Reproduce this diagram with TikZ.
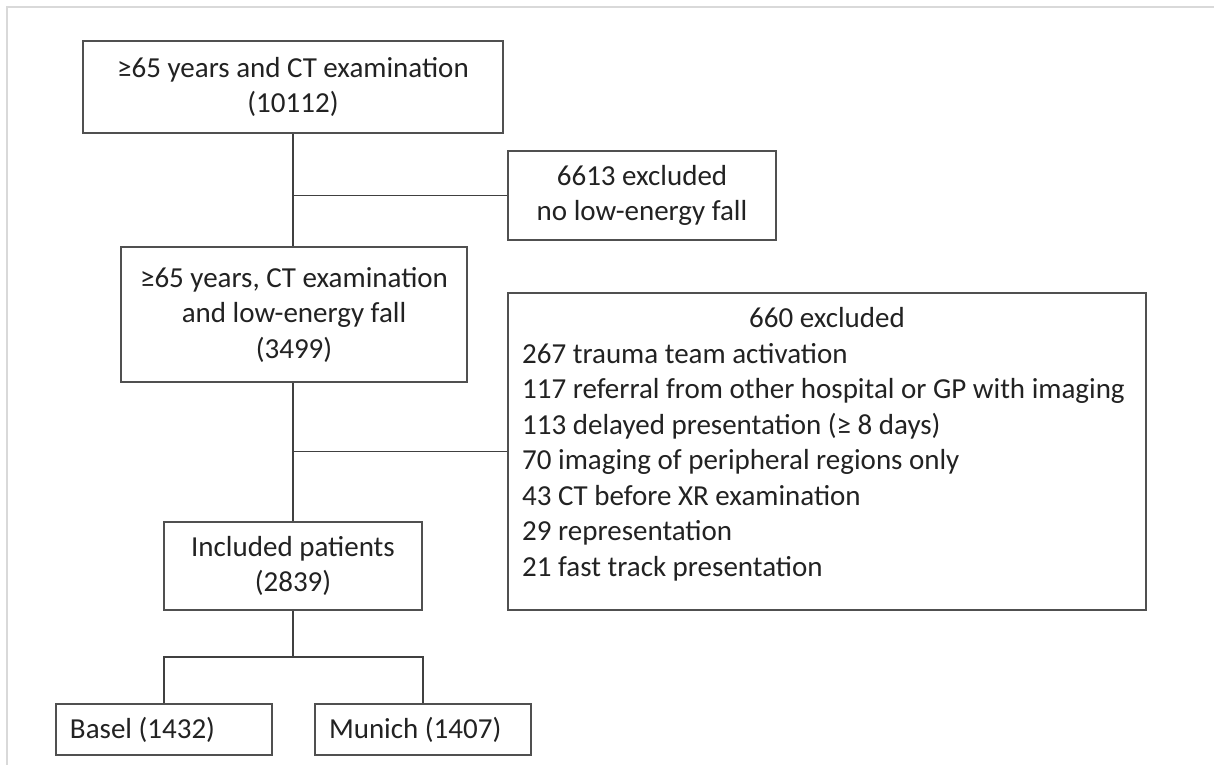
\documentclass[tikz,border=0pt]{standalone}
\usepackage{fontspec}
\setmainfont{Carlito}
\definecolor{boxgray}{HTML}{505050}
\definecolor{linegray}{HTML}{404040}
\definecolor{txt}{HTML}{222222}
\definecolor{framegray}{HTML}{D9D9D9}
\begin{document}
\begin{tikzpicture}[x=1bp,y=-1bp,
  box/.style={draw=boxgray, line width=1.5bp, inner sep=0pt, align=center, text=txt,
    font=\fontsize{29bp}{35.5bp}\selectfont},
  leftbox/.style={box, align=flush left, inner xsep=14bp},
  plain/.style={inner sep=0pt, text=txt, font=\fontsize{29bp}{35.5bp}\selectfont},
  link/.style={draw=linegray, line width=1.8bp}]
\useasboundingbox (0,0) rectangle (1214,765);
\fill[white] (0,0) rectangle (1214,765);
\draw[framegray, line width=2bp] (7,765) -- (7,7) -- (1214,7);

\node[box, minimum width=420bp, minimum height=92bp] (b1) at (293,87)
  {≥65 years and CT examination\\(10112)};
\node[box, minimum width=268bp, minimum height=89bp] (b6613) at (642,195.5)
  {6613 excluded\\no low-energy fall};
\node[box, minimum width=346bp, minimum height=135bp] (b2) at (294,314.5)
  {≥65 years, CT examination\\and low-energy fall\\(3499)};
\node[box, minimum width=638bp, minimum height=317bp] (b660) at (827,451.5) {};
\node[plain, anchor=base] (b660title) at (827,327) {660 excluded};
\node[plain, anchor=base west, align=left] (b660list) at (522,576)
  {267 trauma team activation\\
   117 referral from other hospital or GP with imaging\\
   113 delayed presentation (≥ 8 days)\\
   70 imaging of peripheral regions only\\
   43 CT before XR examination\\
   29 representation\\
   21 fast track presentation};
\node[box, minimum width=258bp, minimum height=88bp] (inc) at (293,566)
  {Included patients\\(2839)};
\node[leftbox, text width=188bp, minimum height=51bp] (basel) at (164,729.5)
  {Basel (1432)};
\node[leftbox, text width=188bp, minimum height=51bp] (munich) at (423,729.5)
  {Munich (1407)};

\coordinate (split) at (293,657);
\draw[link] (b1.south) -- (b1.south |- b2.north);
\draw[link] (b6613.west) -- (b6613.west -| b1.south);
\draw[link] (inc.north) -- (inc.north |- b2.south);
\draw[link] (b660.west) -- (b660.west -| inc.north);
\draw[link] (inc.south) -- (split);
\draw[link] (basel.north) -- (basel.north |- split) -- (munich.north |- split) -- (munich.north);
\end{tikzpicture}
\end{document}
